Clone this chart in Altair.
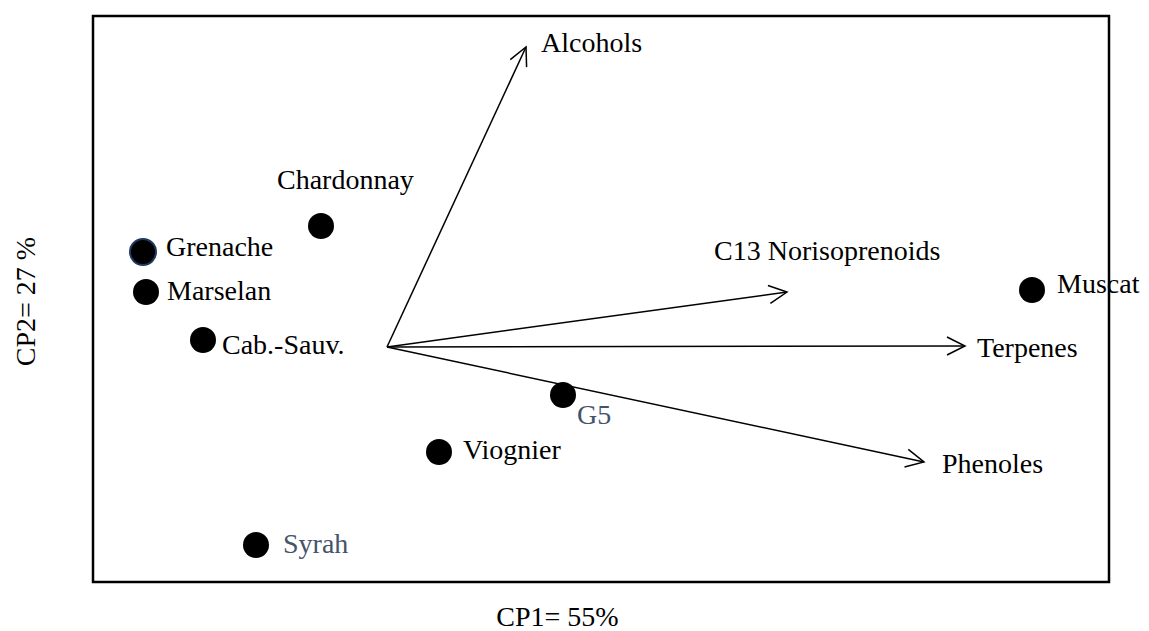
import math
import altair as alt
import pandas as pd

# ---- data (biplot scores, arbitrary units) ----
samples = ["Chardonnay", "Grenache", "Marselan", "Cab.-Sauv.", "G5", "Viognier", "Syrah", "Muscat"]
sample_cp1 = [-0.66, -2.44, -2.41, -1.84, 1.76, 0.52, -1.31, 6.45]
sample_cp2 = [1.21, 0.95, 0.55, 0.07, -0.48, -1.05, -1.98, 0.57]
sample_label_cp1 = [-1.10, -2.21, -2.20, -1.65, 1.90, 0.76, -1.04, 6.70]
sample_label_cp2 = [1.58, 0.91, 0.47, -0.07, -0.77, -1.12, -2.06, 0.54]
sample_label_colors = ["#000000", "#000000", "#000000", "#000000", "#44546A", "#000000", "#44546A", "#000000"]
sample_outline = ["#000000", "#1F3864", "#000000", "#000000", "#000000", "#000000", "#000000", "#000000"]

variables = ["Alcohols", "C13 Norisoprenoids", "Terpenes", "Phenoles"]
var_cp1 = [1.39, 4.00, 5.78, 5.37]
var_cp2 = [3.00, 0.55, 0.01, -1.15]
var_label_cp1 = [1.54, 3.27, 5.90, 5.55]
var_label_cp2 = [2.95, 0.87, -0.10, -1.26]

FONT = "Liberation Serif, Times New Roman, DejaVu Serif, serif"
FS = 28

samp = pd.DataFrame({
    "name": samples, "cp1": sample_cp1, "cp2": sample_cp2,
    "lx": sample_label_cp1, "ly": sample_label_cp2,
    "tcolor": sample_label_colors, "outline": sample_outline,
})
samp["sw"] = [2.0 if c != "#000000" else 0.0 for c in samp["outline"]]

var = pd.DataFrame({
    "name": variables, "cp1": var_cp1, "cp2": var_cp2,
    "lx": var_label_cp1, "ly": var_label_cp2,
})
var["x0"] = 0.0
var["y0"] = 0.0
# equal px per unit on both axes -> screen angle (clockwise) of each arrow
var["angle"] = [(math.degrees(math.atan2(-dy, dx)) + 360) % 360 for dx, dy in zip(var["cp1"], var["cp2"])]

xscale = alt.Scale(domain=[-2.94, 7.22], nice=False, zero=False)
yscale = alt.Scale(domain=[-2.35, 3.31], nice=False, zero=False)
xaxis = alt.Axis(title="CP1= 55%", labels=False, ticks=False, domain=False, grid=False,
                 titleFont=FONT, titleFontSize=FS, titleFontWeight="normal", titleColor="#000000",
                 titleX=464, titleY=43, titleAlign="center", titleBaseline="alphabetic")
yaxis = alt.Axis(title="CP2= 27 %", labels=False, ticks=False, domain=False, grid=False,
                 titleFont=FONT, titleFontSize=FS, titleFontWeight="normal", titleColor="#000000",
                 titleX=-67, titleY=285, titleAngle=270, titleAlign="center", titleBaseline="middle")


def X(field):
    return alt.X(field, type="quantitative", scale=xscale, axis=xaxis)


def Y(field):
    return alt.Y(field, type="quantitative", scale=yscale, axis=yaxis)


base_v = alt.Chart(var)
base_s = alt.Chart(samp)

rules = base_v.mark_rule(color="black", strokeWidth=1.5).encode(
    x=X("x0"), y=Y("y0"), x2="cp1", y2="cp2")

heads = base_v.mark_point(shape="M-1,-0.5L0,0L-1,0.5", size=1296, filled=False,
                          stroke="black", strokeWidth=1.5, opacity=1).encode(
    x=X("cp1"), y=Y("cp2"), angle=alt.Angle("angle:Q", scale=None))

var_text = base_v.mark_text(font=FONT, fontSize=FS, align="left", baseline="alphabetic",
                            color="black").encode(x=X("lx"), y=Y("ly"), text="name:N")

dots = base_s.mark_circle(size=676, opacity=1, color="black").encode(
    x=X("cp1"), y=Y("cp2"),
    stroke=alt.Stroke("outline:N", scale=None),
    strokeWidth=alt.StrokeWidth("sw:Q", scale=None))

samp_text = base_s.mark_text(font=FONT, fontSize=FS, align="left", baseline="alphabetic").encode(
    x=X("lx"), y=Y("ly"), text="name:N", color=alt.Color("tcolor:N", scale=None))

chart = alt.layer(rules, heads, var_text, dots, samp_text).properties(
    width=1016, height=566,
    autosize=alt.AutoSizeParams(type="none"),
    padding={"left": 85, "top": 8, "right": 32, "bottom": 48},
    background="white",
).configure_view(stroke="black", strokeWidth=2.5)

chart.save("out.html", embed_options={"renderer": "svg", "actions": False})
